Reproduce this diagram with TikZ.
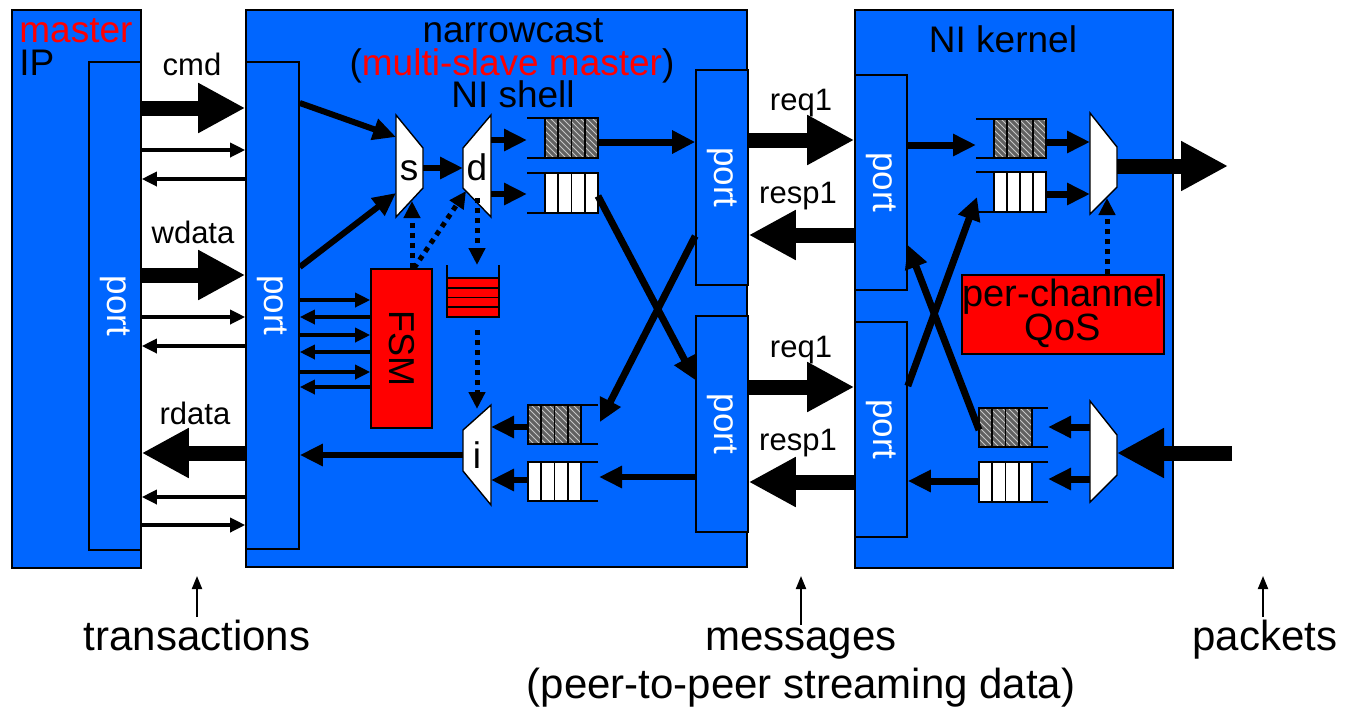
\documentclass[tikz,border=0pt]{standalone}
\usepackage{fontspec}
\setmainfont{Liberation Sans}
\usetikzlibrary{arrows.meta,fit,patterns}

\definecolor{niblue}{RGB}{0,102,255}
\definecolor{nired}{RGB}{255,0,0}

\newcommand\lblfont{\fontsize{15.5}{18}\selectfont}
\newcommand\ttlfont{\fontsize{18.5}{20}\selectfont}
\newcommand\botfont{\fontsize{21}{24}\selectfont}
\newcommand\muxfont{\fontsize{18.5}{18.5}\selectfont}

% a four-slot FIFO: #1 open end x, #2 slot start x, #3 slot end x,
% #4 top y, #5 bottom y, #6 slot style
\newcommand\fifo[6]{%
  \draw[qline] (#1,#4) -- (#2,#4) (#1,#5) -- (#2,#5);
  \foreach \k in {0,1,2,3}{%
    \pgfmathsetmacro\qa{#2+\k*(#3-#2)/4}%
    \pgfmathsetmacro\qb{#2+(\k+1)*(#3-#2)/4}%
    \draw[#6] (\qa,#4) rectangle (\qb,#5);
  }}

\begin{document}
\begin{tikzpicture}[x=0.5pt,y=-0.5pt,
  blk/.style={draw=black, line width=0.8pt, fill=niblue, inner sep=0pt},
  redblk/.style={draw=black, line width=0.8pt, fill=nired, inner sep=0pt},
  porttxt/.style={rotate=-90, text=white, font=\fontsize{17.5}{18}\selectfont, inner sep=0pt},
  txt/.style={inner sep=0pt, anchor=base},
  mux/.style={draw=black, line width=0.7pt, fill=white},
  qline/.style={draw=black, line width=1pt},
  hatch/.style={draw=black, line width=0.8pt, preaction={fill=black!62},
    pattern=north west lines, pattern color=black!22},
  plain/.style={draw=black, line width=0.8pt, fill=white},
  redslot/.style={draw=black, line width=0.8pt, fill=nired},
  big/.style={line width=7.5pt, -{Triangle[length=23.5pt,width=23.5pt]}},
  thin/.style={line width=1.7pt, -{Triangle[length=7.5pt,width=7pt]}},
  mid/.style={line width=3pt, -{Triangle[length=11.5pt,width=10.5pt]}},
  cross/.style={line width=3.5pt, -{Triangle[length=11.5pt,width=11pt]}},
  dots/.style={line width=2.5pt, dash pattern=on 2.5pt off 2.5pt,
    -{Triangle[length=8.5pt,width=8pt]}},
  uparr/.style={line width=1pt, -{Triangle[length=6.5pt,width=5pt]}}
]
\useasboundingbox (0,0) rectangle (1348,708);

% ---------- blocks and ports ----------
\node[blk, fit={(12,10)(141,568)}] (ip) {};
\node[blk, fit={(89,62)(141,550)}] (ipport) {};
\node[blk, fit={(246,10)(747,567)}] (shell) {};
\node[blk, fit={(246,62)(299,549)}] (sport) {};
\node[blk, fit={(696,70)(748,285)}] (sportA) {};
\node[blk, fit={(696,316)(748,532)}] (sportB) {};
\node[blk, fit={(855,10)(1173,568)}] (kern) {};
\node[blk, fit={(855,75)(907,290)}] (kportA) {};
\node[blk, fit={(855,322)(907,537)}] (kportB) {};

\foreach \p in {ipport,sport,sportA,sportB,kportA,kportB}
  \node[porttxt] at (\p.center) {port};

% ---------- titles ----------
\node[txt, anchor=base west, font=\ttlfont, text=nired] (mlab) at (19,42) {master};
\node[txt, anchor=base west, font=\ttlfont] (iplab) at (19,75) {IP};
\node[txt, font=\ttlfont] (nclab) at (513,42) {narrowcast};
\node[txt, font=\ttlfont] (msmlab) at (512,75) {(\textcolor{nired}{multi-slave master})};
\node[txt, font=\ttlfont] (shlab) at (513,107) {NI shell};
\node[txt, font=\ttlfont] (kelab) at (1003,52) {NI kernel};

% ---------- transaction signals ----------
\node[txt, font=\lblfont] (cmdlab) at (192,75) {cmd};
\node[txt, font=\lblfont] (wdlab) at (193,243) {wdata};
\node[txt, font=\lblfont] (rdlab) at (195,424) {rdata};
\draw[big] (ipport.east |- 0,108) -- (sport.west |- 0,108);
\draw[thin] (ipport.east |- 0,150) -- (sport.west |- 0,150);
\draw[thin] (sport.west |- 0,179) -- (ipport.east |- 0,179);
\draw[big] (ipport.east |- 0,275) -- (sport.west |- 0,275);
\draw[thin] (ipport.east |- 0,317) -- (sport.west |- 0,317);
\draw[thin] (sport.west |- 0,346) -- (ipport.east |- 0,346);
\draw[big] (sport.west |- 0,453) -- (ipport.east |- 0,453);
\draw[thin] (sport.west |- 0,497) -- (ipport.east |- 0,497);
\draw[thin] (ipport.east |- 0,525) -- (sport.west |- 0,525);

% ---------- shell: FSM and control ----------
\node[redblk, fit={(371,269)(432,428)}] (fsm) {};
\node[rotate=-90, inner sep=0pt, font=\fontsize{18}{18}\selectfont] at (fsm.center) {FSM};
\foreach \yy in {300,335,372}
  \draw[thin] (sport.east |- 0,\yy) -- (fsm.west |- 0,\yy);
\foreach \yy in {317,352,387}
  \draw[thin] (fsm.west |- 0,\yy) -- (sport.east |- 0,\yy);

% multiplexer s, demultiplexer d, merger i
\draw[mux] (396,115) -- (423,148) -- (423,188) -- (396,217) -- cycle;
\draw[mux] (463,148) -- (491,115) -- (491,217) -- (463,188) -- cycle;
\draw[mux] (463,430) -- (491,405) -- (491,505) -- (463,471) -- cycle;
\node[txt, font=\muxfont] (s) at (409,180) {s};
\node[txt, font=\muxfont] (d) at (477,180) {d};
\node[txt, font=\muxfont] (i) at (477,468) {i};

\coordinate (sin1) at (396,137);
\coordinate (sin2) at (396,193);
\coordinate (sout) at (423,168);
\coordinate (sctl) at (412,201);
\coordinate (din) at (463,168);
\coordinate (dctl) at (466,191);
\coordinate (dbot) at (477,198);
\coordinate (dout1) at (491,140);
\coordinate (dout2) at (491,194);
\coordinate (itop) at (477,409);
\coordinate (iin1) at (491,427);
\coordinate (iin2) at (491,480);
\coordinate (iout) at (463,455);

\draw[mid] (sport.east |- 0,103) -- (sin1);
\draw[mid] (sport.east |- 0,267) -- (sin2);
\draw[mid] (sout) -- (din);
\draw[dots] (fsm.north -| 412,0) -- (sctl);
\draw[dots] (fsm.north -| 414,0) -- (dctl);

% request-ID queue between d and i
\coordinate (rqtop) at (477,265);
\coordinate (rqbot) at (477,330);
\draw[qline] (447,265) -- (447,278) (499,265) -- (499,278);
\foreach \k in {0,1,2,3}
  \draw[redslot] (447,{278+\k*9.75}) rectangle (499,{278+(\k+1)*9.75});
\draw[dots] (dbot) -- (rqtop);
\draw[dots] (rqbot) -- (itop);

% shell FIFOs
\fifo{527}{545}{598}{118}{158}{hatch}
\fifo{527}{545}{598}{173}{213}{plain}
\fifo{598}{528}{581}{405}{444}{hatch}
\fifo{598}{528}{581}{462}{501}{plain}
\draw[mid] (dout1) -- (527,140);
\draw[mid] (dout2) -- (527,194);
\draw[mid] (528,427) -- (iin1);
\draw[mid] (528,480) -- (iin2);
\draw[line width=3pt, -{Triangle[length=11.5pt,width=10.5pt]}] (iout) -- (sport.east |- 0,455);

\draw[cross] (598,142) -- (sportA.west |- 0,142);
\draw[cross] (598,196) -- (sportB.west |- 0,380);
\draw[cross] (sportA.west |- 0,236) -- (600,422);
\draw[mid] (sportB.west |- 0,477) -- (599,477);

% ---------- messages between shell and kernel ----------
\node[txt, font=\lblfont] (rq1a) at (801,110) {req1};
\node[txt, font=\lblfont] (rs1a) at (798,203) {resp1};
\node[txt, font=\lblfont] (rq1b) at (801,357) {req1};
\node[txt, font=\lblfont] (rs1b) at (798,450) {resp1};
\draw[big] (sportA.east |- 0,140) -- (kportA.west |- 0,140);
\draw[big] (kportA.west |- 0,235) -- (sportA.east |- 0,235);
\draw[big] (sportB.east |- 0,387) -- (kportB.west |- 0,387);
\draw[big] (kportB.west |- 0,482) -- (sportB.east |- 0,482);

% ---------- kernel ----------
\fifo{976}{994}{1046}{119}{158}{hatch}
\fifo{976}{994}{1046}{172}{212}{plain}
\fifo{1048}{979}{1032}{408}{447}{hatch}
\fifo{1048}{979}{1032}{462}{502}{plain}

\draw[mux] (1090,113) -- (1117,147) -- (1117,187) -- (1090,214) -- cycle;
\draw[mux] (1090,401) -- (1117,435) -- (1117,475) -- (1090,502) -- cycle;
\coordinate (kmout) at (1117,166);
\coordinate (kmctl) at (1107,198);
\coordinate (kdin) at (1117,453);
\coordinate (pktout) at (1228,166);
\coordinate (pktin) at (1232,453);

\node[redblk, fit={(962,275)(1164,354)}] (qos) {};
\node[txt, font=\fontsize{19}{19}\selectfont] (qos1) at (1063,306) {per-channel};
\node[txt, font=\fontsize{19}{19}\selectfont] (qos2) at (1063,340) {QoS};

\draw[mid, line width=3.5pt] (kportA.east |- 0,145) -- (976,145);
\draw[mid, line width=3.5pt] (1046,142) -- (1090,142);
\draw[mid, line width=3.5pt] (1046,194) -- (1090,194);
\draw[big] (kmout) -- (pktout);
\draw[dots] (qos.north -| kmctl) -- (kmctl);
\draw[big] (pktin) -- (kdin);
\draw[mid, line width=3.5pt] (1090,427) -- (1048,427);
\draw[mid, line width=3.5pt] (1090,479) -- (1048,479);
\draw[mid, line width=3.5pt] (979,481) -- (kportB.east |- 0,481);
\draw[cross] (kportB.east |- 0,386) -- (977,197);
\draw[cross] (979,430) -- (kportA.east |- 0,245);

% ---------- abstraction levels ----------
\node[txt, font=\botfont] (trans) at (197,650) {transactions};
\node[txt, font=\botfont] (msgs) at (801,650) {messages};
\node[txt, font=\botfont] (p2p) at (801,698) {(peer-to-peer streaming data)};
\node[txt, font=\botfont] (pkts) at (1265,650) {packets};
\draw[uparr] (trans.north) ++(0,-2) -- (trans.north |- 0,576);
\draw[uparr] (msgs.north) ++(0,-2) -- (msgs.north |- 0,576);
\draw[uparr] (pkts.north) ++(-2,-2) -- (1263,576);
\end{tikzpicture}
\end{document}
